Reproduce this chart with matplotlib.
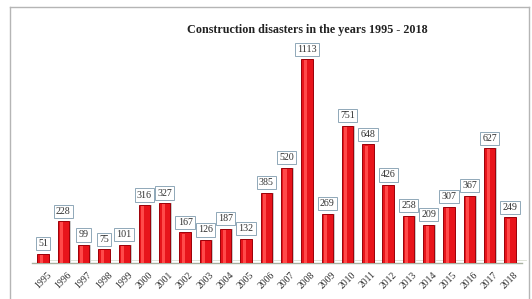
import matplotlib
matplotlib.use("Agg")
import matplotlib.pyplot as plt
from matplotlib.lines import Line2D

years = [str(y) for y in range(1995, 2019)]
disasters = [51, 228, 99, 75, 101, 316, 327, 167, 126, 187, 132, 385,
             520, 1113, 269, 751, 648, 426, 258, 209, 307, 367, 627, 249]

W, H = 532, 299
fig = plt.figure(figsize=(W / 100, H / 100), dpi=100)
fig.patch.set_facecolor("white")

# grey frame around the chart (left, top, right)
fx0, fx1, fy1 = 10 / W, 529 / W, 1 - 7 / H
for xs, ys in [([fx0, fx0], [0, fy1]), ([fx0, fx1], [fy1, fy1]), ([fx1, fx1], [fy1, 0])]:
    fig.add_artist(Line2D(xs, ys, color="#b5b5b5", lw=1.0, transform=fig.transFigure))

# axes placed so the baseline sits at y=263 px
left_px, right_px, base_px, top_px = 32, 522, 263, 20
ax = fig.add_axes([left_px / W, (H - base_px) / H,
                   (right_px - left_px) / W, (base_px - top_px) / H])
ax.set_xlim(-0.54, 23.59)
ax.set_ylim(0, 1328)
for s in ax.spines.values():
    s.set_visible(False)
ax.set_yticks([])

x = list(range(len(years)))

# floor of the pseudo 3d chart
ax.plot([-0.54, 23.59], [0, 0], color="#a8b0a0", lw=1.0, zorder=1, clip_on=False)
ax.plot([-0.3, 23.8], [14, 14], color="#d8ddd0", lw=0.6, zorder=0, clip_on=False)

# bars: shadow, body, highlight
ax.bar([i + 0.08 for i in x], disasters, width=0.56, color="#c9c9c9", zorder=2)
ax.bar(x, disasters, width=0.56, color="#e8141b", edgecolor="#9c0008", lw=0.7, zorder=3)
ax.bar([i - 0.08 for i in x], [v - 6 for v in disasters], width=0.15,
       color="#ff4a4a", lw=0, zorder=4)

for i, v in zip(x, disasters):
    ax.annotate(str(v), (i, v), xytext=(0, 4), textcoords="offset points",
                ha="center", va="bottom", fontsize=7.2, family="Liberation Serif",
                color="#303030", zorder=5,
                bbox=dict(boxstyle="square,pad=0.22", fc="white", ec="#8fa8b8", lw=0.7))

ax.set_xticks([i + 0.18 for i in x])
ax.set_xticklabels(years, rotation=45, ha="right", rotation_mode="anchor",
                   fontsize=7, family="Liberation Serif", color="#303030")
ax.tick_params(axis="x", length=0, pad=5)

fig.text(307 / W, 1 - 30 / H, "Construction disasters in the years 1995 - 2018",
         ha="center", va="center", fontsize=8.7, fontweight="bold",
         family="Liberation Serif", color="#222222")

fig.savefig("out.png", dpi=100)
